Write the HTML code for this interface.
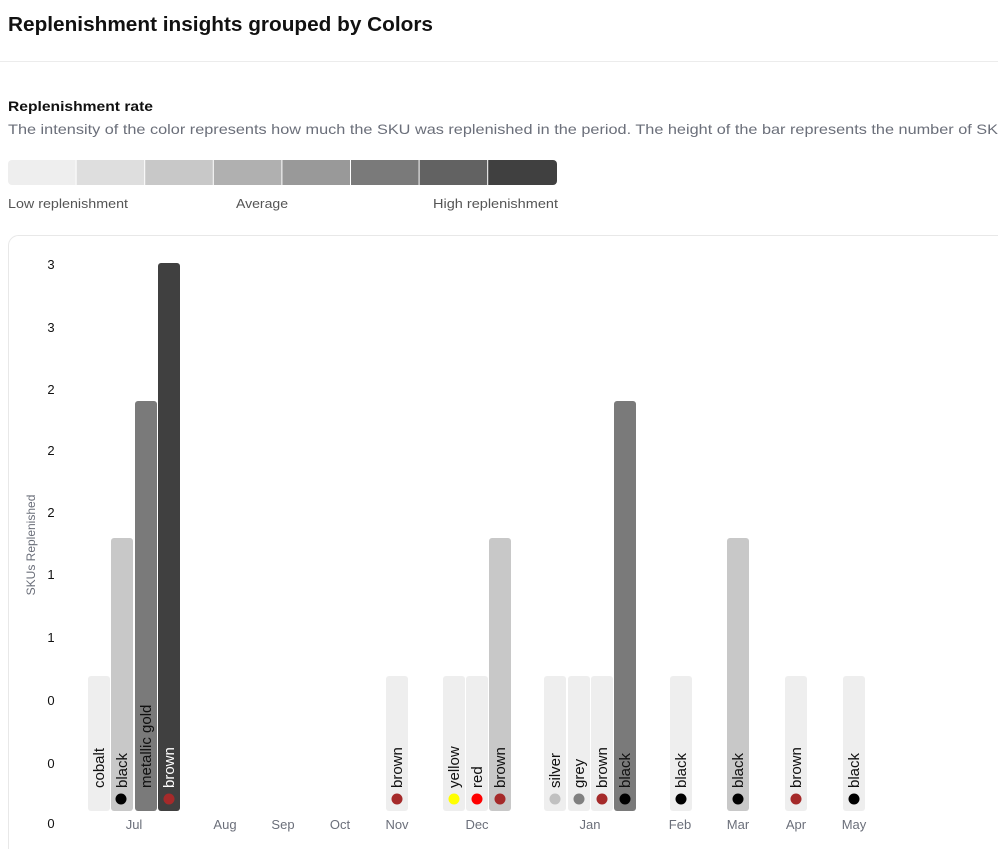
<!DOCTYPE html>
<html><head><meta charset="utf-8"><style>
html,body{margin:0;padding:0;background:#fff;width:998px;height:849px;overflow:hidden}
svg{display:block}
text{font-family:"Liberation Sans",sans-serif}
</style></head><body>
<svg width="998" height="849" viewBox="0 0 998 849" xmlns="http://www.w3.org/2000/svg">
<text x="8" y="31" font-size="20" font-weight="bold" fill="#111" textLength="425" lengthAdjust="spacingAndGlyphs">Replenishment insights grouped by Colors</text>
<line x1="0" y1="61.5" x2="998" y2="61.5" stroke="#ececec"/>
<text x="8" y="111" font-size="14" font-weight="bold" fill="#111" textLength="145" lengthAdjust="spacingAndGlyphs">Replenishment rate</text>
<text x="8" y="134" font-size="14" fill="#6b6f7a" textLength="990" lengthAdjust="spacingAndGlyphs">The intensity of the color represents how much the SKU was replenished in the period. The height of the bar represents the number of SK</text>
<clipPath id="lg"><rect x="8" y="160" width="549" height="25" rx="4"/></clipPath>
<g clip-path="url(#lg)">
<rect x="8" y="160" width="67.6" height="25" fill="#eeeeee"/>
<rect x="76.6" y="160" width="67.6" height="25" fill="#dedede"/>
<rect x="145.2" y="160" width="67.6" height="25" fill="#c8c8c8"/>
<rect x="213.8" y="160" width="67.6" height="25" fill="#b0b0b0"/>
<rect x="282.4" y="160" width="67.6" height="25" fill="#999999"/>
<rect x="351" y="160" width="67.6" height="25" fill="#7a7a7a"/>
<rect x="419.6" y="160" width="67.6" height="25" fill="#626262"/>
<rect x="488.2" y="160" width="68.8" height="25" fill="#404040"/>
</g>
<g font-size="13" fill="#555">
<text x="8" y="208" textLength="120" lengthAdjust="spacingAndGlyphs">Low replenishment</text>
<text x="236" y="208" textLength="52" lengthAdjust="spacingAndGlyphs">Average</text>
<text x="433" y="208" textLength="125" lengthAdjust="spacingAndGlyphs">High replenishment</text>
</g>
<path d="M8.5,849 L8.5,245.5 A10,10 0 0 1 18.5,235.5 L998,235.5" fill="none" stroke="#e8e8e8"/>
<text transform="translate(35,545) rotate(-90)" font-size="12" fill="#6b6f7a" text-anchor="middle">SKUs Replenished</text>
<g font-size="13" fill="#111" text-anchor="middle">
<text x="51" y="269">3</text><text x="51" y="332">3</text><text x="51" y="394">2</text>
<text x="51" y="455">2</text><text x="51" y="517">2</text><text x="51" y="579">1</text>
<text x="51" y="642">1</text><text x="51" y="705">0</text><text x="51" y="768">0</text><text x="51" y="828">0</text>
</g>
<g font-size="13" fill="#6b6f7a" text-anchor="middle">
<text x="134" y="829">Jul</text><text x="225" y="829">Aug</text><text x="283" y="829">Sep</text>
<text x="340" y="829">Oct</text><text x="397" y="829">Nov</text><text x="477" y="829">Dec</text>
<text x="590" y="829">Jan</text><text x="680" y="829">Feb</text><text x="738" y="829">Mar</text>
<text x="796" y="829">Apr</text><text x="854" y="829">May</text>
</g>
<g>
<rect x="88" y="676" width="22" height="135" rx="3" fill="#eeeeee"/>
<rect x="111" y="538" width="22" height="273" rx="3" fill="#c8c8c8"/>
<rect x="135" y="401" width="22" height="410" rx="3" fill="#7a7a7a"/>
<rect x="158" y="263" width="22" height="548" rx="3" fill="#404040"/>
<rect x="386" y="676" width="22" height="135" rx="3" fill="#eeeeee"/>
<rect x="443" y="676" width="22" height="135" rx="3" fill="#eeeeee"/>
<rect x="466" y="676" width="22" height="135" rx="3" fill="#eeeeee"/>
<rect x="489" y="538" width="22" height="273" rx="3" fill="#c8c8c8"/>
<rect x="544" y="676" width="22" height="135" rx="3" fill="#eeeeee"/>
<rect x="568" y="676" width="22" height="135" rx="3" fill="#eeeeee"/>
<rect x="591" y="676" width="22" height="135" rx="3" fill="#eeeeee"/>
<rect x="614" y="401" width="22" height="410" rx="3" fill="#7a7a7a"/>
<rect x="670" y="676" width="22" height="135" rx="3" fill="#eeeeee"/>
<rect x="727" y="538" width="22" height="273" rx="3" fill="#c8c8c8"/>
<rect x="785" y="676" width="22" height="135" rx="3" fill="#eeeeee"/>
<rect x="843" y="676" width="22" height="135" rx="3" fill="#eeeeee"/>
</g>
<g>
<circle cx="121" cy="799" r="5.5" fill="#000"/>
<circle cx="169" cy="799" r="5.5" fill="#a52a2a"/>
<circle cx="397" cy="799" r="5.5" fill="#a52a2a"/>
<circle cx="454" cy="799" r="5.5" fill="#ffff00"/>
<circle cx="477" cy="799" r="5.5" fill="#ff0000"/>
<circle cx="500" cy="799" r="5.5" fill="#a52a2a"/>
<circle cx="555" cy="799" r="5.5" fill="#c0c0c0"/>
<circle cx="579" cy="799" r="5.5" fill="#808080"/>
<circle cx="602" cy="799" r="5.5" fill="#a52a2a"/>
<circle cx="625" cy="799" r="5.5" fill="#000"/>
<circle cx="681" cy="799" r="5.5" fill="#000"/>
<circle cx="738" cy="799" r="5.5" fill="#000"/>
<circle cx="796" cy="799" r="5.5" fill="#a52a2a"/>
<circle cx="854" cy="799" r="5.5" fill="#000"/>
</g>
<g font-size="15" fill="#111">
<text transform="translate(104,788) rotate(-90)">cobalt</text>
<text transform="translate(127,788) rotate(-90)">black</text>
<text transform="translate(151,788) rotate(-90)">metallic gold</text>
<text transform="translate(174,788) rotate(-90)" fill="#fff">brown</text>
<text transform="translate(402,788) rotate(-90)">brown</text>
<text transform="translate(459,788) rotate(-90)">yellow</text>
<text transform="translate(482,788) rotate(-90)">red</text>
<text transform="translate(505,788) rotate(-90)">brown</text>
<text transform="translate(560,788) rotate(-90)">silver</text>
<text transform="translate(584,788) rotate(-90)">grey</text>
<text transform="translate(607,788) rotate(-90)">brown</text>
<text transform="translate(630,788) rotate(-90)">black</text>
<text transform="translate(686,788) rotate(-90)">black</text>
<text transform="translate(743,788) rotate(-90)">black</text>
<text transform="translate(801,788) rotate(-90)">brown</text>
<text transform="translate(859,788) rotate(-90)">black</text>
</g>
</svg>
</body></html>
